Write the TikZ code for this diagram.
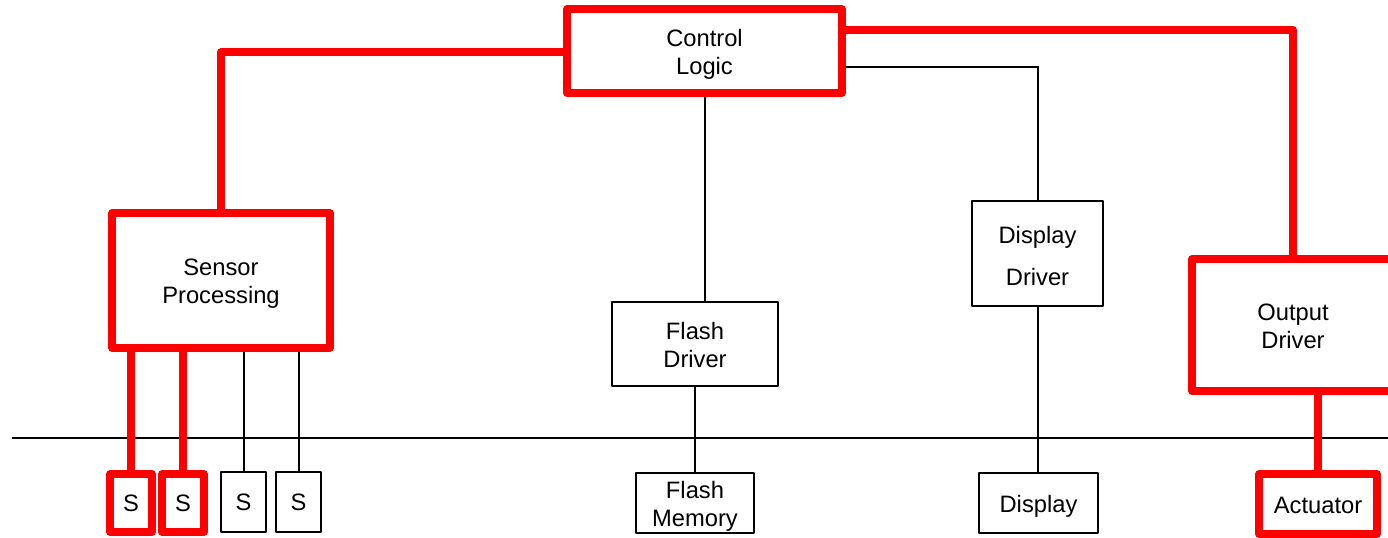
\documentclass[tikz,border=0pt]{standalone}
\usepackage{fontspec}
\setmainfont{Liberation Sans}
\newcommand\myStrut[1]{\rule{0pt}{#1}}
\tikzset{
  box/.style={draw=black, line width=1.5pt, line join=round, fill=white, inner sep=0pt, align=center, font=\fontsize{17.8}{21}\selectfont},
  hot/.style={box, draw=red, line width=5.5pt},
  sz/.style 2 args={minimum width=#1*0.75pt, minimum height=#2*0.75pt},
  wire/.style={line width=1.5pt, black},
  hotwire/.style={line width=5.5pt, red, line join=round}
}
\begin{document}
\begin{tikzpicture}[x=0.75pt,y=-0.75pt]
\useasboundingbox (0,0) rectangle (1388,537);
% nodes
\node[hot, sz={275}{84}] (cl) at (704.5,51) {\myStrut{17.5pt}Control\\Logic};
\node[hot, sz={218}{135}] (sp) at (221,280.5) {\myStrut{17.8pt}Sensor\\Processing};
\node[box, sz={166}{84}] (fd) at (695,344) {\myStrut{14.8pt}Flash\\Driver};
\node[box, sz={131}{105}, font=\fontsize{17.8}{31.5}\selectfont] (dd) at (1037.5,253.5) {\myStrut{16pt}Display\\Driver};
\node[hot, sz={202}{132}] (od) at (1293,325) {\myStrut{14.5pt}Output\\Driver};
\node[hot, sz={42}{58}] (s1) at (131,503) {S};
\node[hot, sz={42}{58}] (s2) at (183,503) {S};
\node[box, sz={45}{60}] (s3) at (243.5,502) {S};
\node[box, sz={45}{60}] (s4) at (298.5,502) {S};
\node[box, sz={118}{60}] (fm) at (695,503) {\myStrut{17.5pt}Flash\\Memory};
\node[box, sz={119}{60}] (disp) at (1038.5,503) {\myStrut{17.5pt}Display};
\node[hot, sz={118}{60}] (act) at (1318,504) {\myStrut{14.5pt}Actuator};
\coordinate (busL) at (12,438);
\coordinate (busR) at (1388,438);
% bus
\draw[wire] (busL) -- (busR);
% connectors
\draw[hotwire] ([yshift=-0.75pt]cl.west) -| (sp.north);
\draw[hotwire] ([yshift=15.75pt]cl.east) -| (od.north);
\draw[wire] ([yshift=-12pt]cl.east) -| (dd.north);
\draw[wire] (cl.south) -- (cl.south |- fd.north);
\draw[wire] (fd.south) -- (fm.north);
\draw[wire] (dd.south) -- (dd.south |- disp.north);
\draw[hotwire] (act.north) -- (act.north |- od.south);
\draw[hotwire] (s1.north) -- (s1.north |- sp.south);
\draw[hotwire] (s2.north) -- (s2.north |- sp.south);
\draw[wire] (s3.north) -- (s3.north |- sp.south);
\draw[wire] (s4.north) -- (s4.north |- sp.south);
\end{tikzpicture}
\end{document}
